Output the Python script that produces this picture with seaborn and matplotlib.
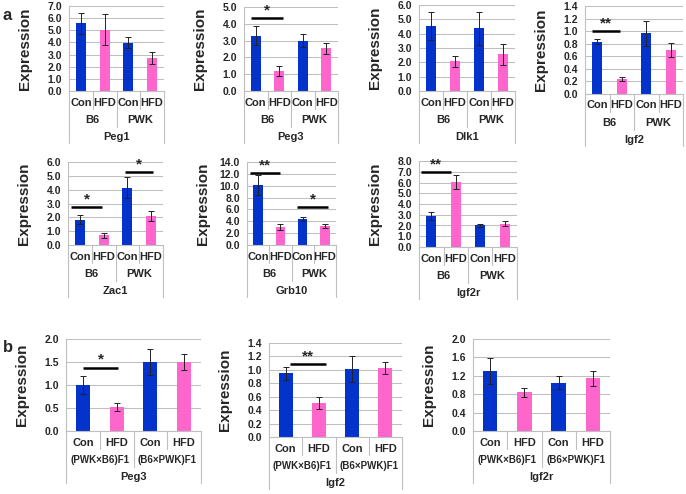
import pandas as pd
import seaborn as sns
import matplotlib.pyplot as plt

# grupos / dietas
diets = ['Con', 'HFD']
strains_a = ['B6', 'PWK']
strains_b = ['(PWK×B6)F1', '(B6×PWK)F1']

# painel a: medias e erros (Con B6, HFD B6, Con PWK, HFD PWK)
peg1_mean = [5.56, 5.06, 3.97, 2.72]
peg1_err = [0.9, 1.3, 0.45, 0.5]
peg3_mean = [3.3, 1.2, 3.0, 2.54]
peg3_err = [0.55, 0.3, 0.4, 0.33]
dlk1_mean = [4.52, 2.07, 4.38, 2.55]
dlk1_err = [0.98, 0.4, 1.15, 0.75]
igf2_mean = [0.835, 0.24, 0.967, 0.70]
igf2_err = [0.04, 0.03, 0.2, 0.11]
zac1_mean = [1.83, 0.7, 4.15, 2.1]
zac1_err = [0.32, 0.18, 0.78, 0.35]
grb10_mean = [10.08, 3.02, 4.42, 3.25]
grb10_err = [1.65, 0.48, 0.34, 0.35]
igf2r_mean = [2.87, 6.07, 2.02, 2.18]
igf2r_err = [0.36, 0.67, 0.16, 0.27]

# painel b: (PWKxB6)F1 Con/HFD, (B6xPWK)F1 Con/HFD
peg3_b_mean = [1.0, 0.52, 1.5, 1.5]
peg3_b_err = [0.2, 0.085, 0.28, 0.18]
igf2_b_mean = [0.95, 0.51, 1.01, 1.03]
igf2_b_err = [0.1, 0.09, 0.19, 0.09]
igf2r_b_mean = [1.30, 0.84, 1.05, 1.15]
igf2r_b_err = [0.28, 0.095, 0.14, 0.165]

azul = '#0433CC'
rosa = '#FF66CC'
cinza = '#BFBFBF'

sns.set_style("white")
plt.rcParams['font.family'] = ['Liberation Sans', 'DejaVu Sans']
plt.rcParams['font.weight'] = 'bold'

W, H = 686, 494
fig = plt.figure(figsize=(W / 100, H / 100), dpi=100)


def painel(rect, gene, strains, media, erro, ymax, passo, sig=()):
    x0, y0, x1, y1 = rect
    ax = fig.add_axes([x0 / W, 1 - y1 / H, (x1 - x0) / W, (y1 - y0) / H])
    altura = y1 - y0
    rotulos = [s + ' ' + d for s in strains for d in diets]
    df = pd.DataFrame({'rotulo': rotulos,
                       'dieta': diets * 2,
                       'valor': media})
    sns.barplot(data=df, x='rotulo', y='valor', hue='dieta', order=rotulos,
                hue_order=diets, palette={'Con': azul, 'HFD': rosa},
                dodge=False, width=0.42, legend=False, errorbar=None,
                linewidth=0, saturation=1, ax=ax)
    ax.errorbar(range(4), media, yerr=erro, fmt='none', ecolor='#222222',
                elinewidth=0.7, capsize=2, capthick=0.7)
    ax.set_xlim(-0.5, 3.5)
    ax.set_ylim(0, ymax)
    n = int(round(ymax / passo))
    ax.set_yticks([i * passo for i in range(n + 1)])
    ax.set_yticklabels([f'{i * passo:.1f}' for i in range(n + 1)],
                       fontsize=7.5, fontweight='bold')
    ax.tick_params(axis='y', length=3, width=0.7, color=cinza, pad=2)
    ax.set_xticks([])
    ax.yaxis.grid(True, color=cinza, lw=0.75)
    ax.set_axisbelow(True)
    for lado in ['top', 'right']:
        ax.spines[lado].set_visible(False)
    for lado in ['left', 'bottom']:
        ax.spines[lado].set_color(cinza)
        ax.spines[lado].set_linewidth(0.8)
    ax.set_xlabel('')
    ax.set_ylabel('Expression', fontsize=11, fontweight='bold')
    ax.yaxis.set_label_coords(-37 / (x1 - x0), 0.5)

    # eixo de categorias em varios niveis
    tr = ax.get_xaxis_transform()
    def linha(x, px):
        ax.plot([x, x], [0, -px / altura], transform=tr, color=cinza,
                lw=0.8, clip_on=False)
    def texto(x, px, s, tam):
        ax.text(x, -px / altura, s, transform=tr, ha='center', va='center',
                fontsize=tam, fontweight='bold', clip_on=False)
    for x in [-0.5, 3.5]:
        linha(x, 52)
    linha(1.5, 36)
    for x in [0.5, 2.5]:
        linha(x, 18)
    for i in range(4):
        texto(i, 11.5, diets[i % 2], 8)
    tam_grupo = 8 if len(strains[0]) < 4 else 7
    texto(0.5, 29, strains[0], tam_grupo)
    texto(2.5, 29, strains[1], tam_grupo)
    texto(1.5, 46, gene, 8)

    for xa, xb, y, estrela in sig:
        ax.plot([xa, xb], [y, y], color='black', lw=1.8, clip_on=False,
                solid_capstyle='butt')
        ax.annotate(estrela, xy=((xa + xb) / 2, y), xytext=(0, 0.5),
                    textcoords='offset points', ha='center', va='bottom',
                    fontsize=11, fontweight='bold', annotation_clip=False)
    return ax


painel((69, 6, 164, 91), 'Peg1', strains_a, peg1_mean, peg1_err, 7, 1)
painel((244, 7, 338, 91), 'Peg3', strains_a, peg3_mean, peg3_err, 5, 1,
       sig=[(-0.2, 1.15, 4.35, '*')])
painel((419, 5, 515, 91), 'Dlk1', strains_a, dlk1_mean, dlk1_err, 6, 1)
painel((585, 6, 683, 94), 'Igf2', strains_a, igf2_mean, igf2_err, 1.4, 0.2,
       sig=[(-0.2, 0.93, 1.0, '**')])
painel((68, 162, 163, 245), 'Zac1', strains_a, zac1_mean, zac1_err, 6, 1,
       sig=[(-0.38, 0.94, 2.75, '*'), (1.9, 3.06, 5.3, '*')])
painel((247, 162, 336, 245), 'Grb10', strains_a, grb10_mean, grb10_err, 14, 2,
       sig=[(-0.37, 0.99, 12.2, '**'), (1.74, 3.15, 6.35, '*')])
painel((419, 161, 517, 247), 'Igf2r', strains_a, igf2r_mean, igf2r_err, 8, 1,
       sig=[(-0.4, 0.79, 6.95, '**')])
painel((66, 339, 201, 431), 'Peg3', strains_b, peg3_b_mean, peg3_b_err, 2.0, 0.5,
       sig=[(0.0, 1.05, 1.38, '*')])
painel((269, 343, 402, 437), 'Igf2', strains_b, igf2_b_mean, igf2_b_err, 1.4, 0.2,
       sig=[(0.14, 1.21, 1.085, '**')])
painel((473, 339, 610, 431), 'Igf2r', strains_b, igf2r_b_mean, igf2r_b_err, 2.0, 0.4)

fig.text(7 / W, 1 - 15 / H, 'a', fontsize=12, fontweight='bold', ha='center', va='center')
fig.text(8 / W, 1 - 347 / H, 'b', fontsize=12, fontweight='bold', ha='center', va='center')

fig.savefig('out.png', dpi=100)
